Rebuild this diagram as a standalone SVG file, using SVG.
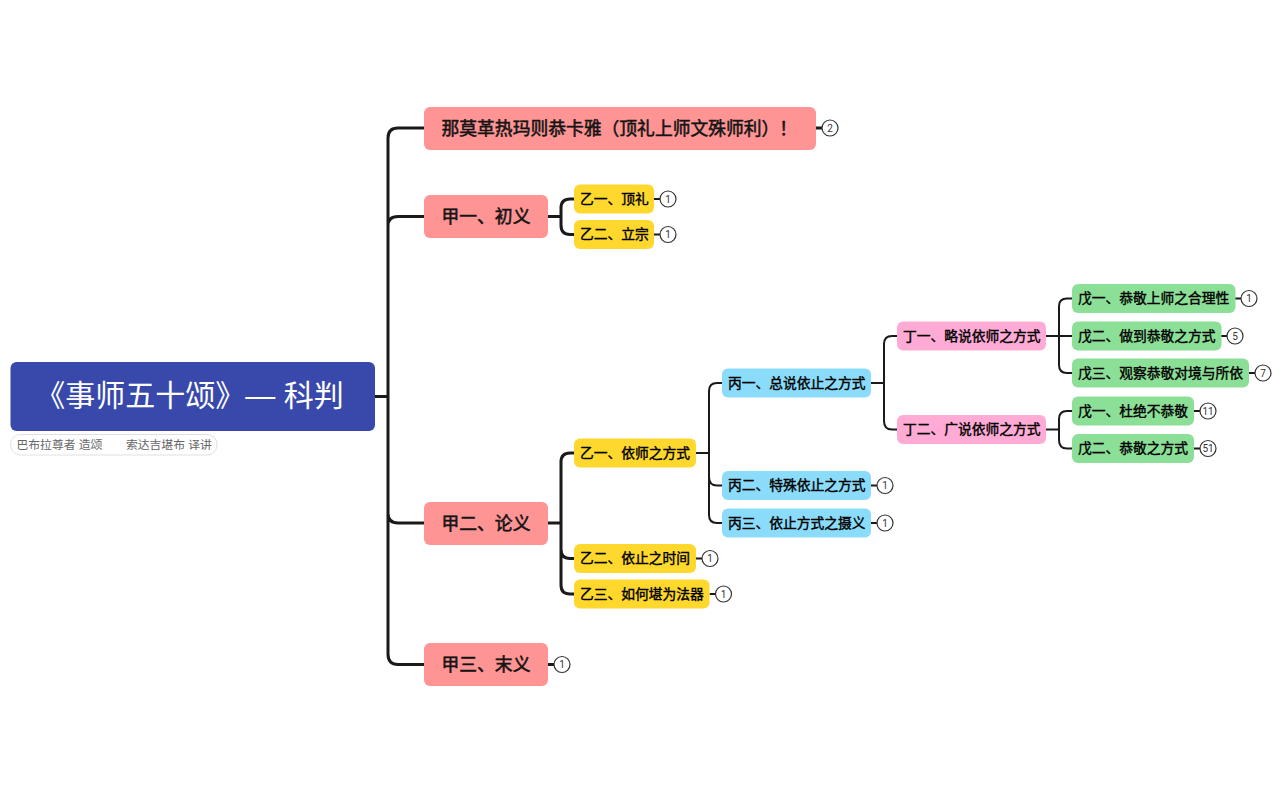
<svg xmlns="http://www.w3.org/2000/svg" width="1281" height="793" viewBox="0 0 1281 793">
<style>
text{font-family:"Liberation Sans","Noto Sans CJK SC",sans-serif;dominant-baseline:central}
.c{fill:none;stroke:#1a1a1a;stroke-linecap:butt}
.w1{stroke-width:3}.w2{stroke-width:3}.w3{stroke-width:2}
.l1{fill:#ff9494}.l2{fill:#ffd82e}.l3{fill:#8bdcfb}.l4{fill:#ffabd6}.l5{fill:#8cdf97}
.t1{font-size:17.8px;font-weight:400;fill:#141414;stroke:#141414;stroke-width:.55px}
.t2{font-size:13.75px;font-weight:400;fill:#000;stroke:#000;stroke-width:.4px}
.b circle{fill:#fff;stroke:#333;stroke-width:1.2}
.b text{font-size:10px;fill:#333;text-anchor:middle;font-family:Roboto,sans-serif}
</style>
<rect width="1281" height="793" fill="#fff"/>
<g id="connectors">
<path class="c w1" d="M375 396.500H388M424 128H398Q388 128 388 138V654Q388 664.500 398 664.500H424M388 226Q388 216.500 398 216.500H424M388 513Q388 523 398 523H424"/>
<path class="c w1" d="M816 128H822M548 664.500H554"/>
<path class="c w2" d="M548 216.500H561M574 199H570Q561 199 561 208V225Q561 234.500 570 234.500H574"/>
<path class="c w2" d="M548 523H561M574 453H570Q561 453 561 462V585Q561 594 570 594H574M561 549Q561 558.500 570 558.500H574"/>
<path class="c w3" d="M654 199H660M654 234.500H660M696 558.500H702M709.500 594H715"/>
<path class="c w3" d="M696 453H709M722 383H717Q709 383 709 391V515Q709 523 717 523H722M709 477Q709 485.500 717 485.500H722"/>
<path class="c w3" d="M871 383H884M897 336H892Q884 336 884 344V421Q884 429.500 892 429.500H897"/>
<path class="c w3" d="M1046 336H1072M1072 298.500H1067Q1059 298.500 1059 306V365Q1059 373 1067 373H1072"/>
<path class="c w3" d="M1046 429.500H1059M1072 411H1067Q1059 411 1059 419V440Q1059 448.500 1067 448.500H1072"/>
<path class="c w3" d="M871 485.500H877M871 523H877M1235 298.500H1241M1221 336H1227M1249 373H1255M1194 411H1200M1194 448.500H1200"/>
</g>
<g id="root"><rect x="10.500" y="362" width="364.500" height="69" rx="6" fill="#3949ab"/><text x="189.500" y="395" text-anchor="middle" font-size="30" fill="#fff">《事师五十颂》— 科判</text></g>
<g id="subtitle"><rect x="10.500" y="434.500" width="206.500" height="20.500" rx="10" fill="#fff" stroke="#e0e0e0"/><text x="16.500" y="444.500" font-size="11.800" fill="#666">巴布拉尊者 造颂<tspan x="126">索达吉堪布 译讲</tspan></text></g>
<g id="n1"><rect class="l1" x="424" y="107" width="392" height="43" rx="6"/><text class="t1" x="441.500" y="128.500">那莫革热玛则恭卡雅（顶礼上师文殊师利）！</text></g>
<g id="b1" class="b"><circle cx="830" cy="128" r="8"/><text x="830" y="128">2</text></g>
<g id="n2"><rect class="l1" x="424" y="195" width="124" height="43" rx="6"/><text class="t1" x="441.500" y="217">甲一、初义</text></g>
<g id="n3"><rect class="l2" x="574" y="184.500" width="80" height="29" rx="6"/><text class="t2" x="580" y="199">乙一、顶礼</text></g>
<g id="b3" class="b"><circle cx="668" cy="199" r="8"/><text x="668" y="199">1</text></g>
<g id="n4"><rect class="l2" x="574" y="220" width="80" height="29" rx="6"/><text class="t2" x="580" y="234.500">乙二、立宗</text></g>
<g id="b4" class="b"><circle cx="668" cy="234.500" r="8"/><text x="668" y="234.500">1</text></g>
<g id="n5"><rect class="l1" x="424" y="502" width="124" height="43" rx="6"/><text class="t1" x="441.500" y="523.500">甲二、论义</text></g>
<g id="n6"><rect class="l2" x="574" y="438.500" width="122" height="29" rx="6"/><text class="t2" x="580" y="453">乙一、依师之方式</text></g>
<g id="n7"><rect class="l3" x="722" y="368.500" width="149" height="29" rx="6"/><text class="t2" x="728" y="383">丙一、总说依止之方式</text></g>
<g id="n8"><rect class="l4" x="897" y="321.500" width="149" height="29" rx="6"/><text class="t2" x="903" y="336">丁一、略说依师之方式</text></g>
<g id="n9"><rect class="l5" x="1072" y="284" width="163.500" height="29" rx="6"/><text class="t2" x="1078" y="298.500">戊一、恭敬上师之合理性</text></g>
<g id="b9" class="b"><circle cx="1249" cy="298.500" r="8"/><text x="1249" y="298.500">1</text></g>
<g id="n10"><rect class="l5" x="1072" y="321.500" width="149.500" height="29" rx="6"/><text class="t2" x="1078" y="336">戊二、做到恭敬之方式</text></g>
<g id="b10" class="b"><circle cx="1235" cy="336" r="8"/><text x="1235" y="336">5</text></g>
<g id="n11"><rect class="l5" x="1072" y="358.500" width="177" height="29" rx="6"/><text class="t2" x="1078" y="373">戊三、观察恭敬对境与所依</text></g>
<g id="b11" class="b"><circle cx="1263" cy="373" r="8"/><text x="1263" y="373">7</text></g>
<g id="n12"><rect class="l4" x="897" y="415" width="149" height="29" rx="6"/><text class="t2" x="903" y="429.500">丁二、广说依师之方式</text></g>
<g id="n13"><rect class="l5" x="1072" y="396.500" width="122" height="29" rx="6"/><text class="t2" x="1078" y="411">戊一、杜绝不恭敬</text></g>
<g id="b13" class="b"><circle cx="1208" cy="411" r="8"/><text x="1208" y="411">11</text></g>
<g id="n14"><rect class="l5" x="1072" y="434" width="122" height="29" rx="6"/><text class="t2" x="1078" y="448.500">戊二、恭敬之方式</text></g>
<g id="b14" class="b"><circle cx="1208" cy="448.500" r="8"/><text x="1208" y="448.500">51</text></g>
<g id="n15"><rect class="l3" x="722" y="471" width="149" height="29" rx="6"/><text class="t2" x="728" y="485.500">丙二、特殊依止之方式</text></g>
<g id="b15" class="b"><circle cx="885" cy="485.500" r="8"/><text x="885" y="485.500">1</text></g>
<g id="n16"><rect class="l3" x="722" y="508.500" width="149" height="29" rx="6"/><text class="t2" x="728" y="523">丙三、依止方式之摄义</text></g>
<g id="b16" class="b"><circle cx="885" cy="523" r="8"/><text x="885" y="523">1</text></g>
<g id="n17"><rect class="l2" x="574" y="544" width="122" height="29" rx="6"/><text class="t2" x="580" y="558.500">乙二、依止之时间</text></g>
<g id="b17" class="b"><circle cx="710" cy="558.500" r="8"/><text x="710" y="558.500">1</text></g>
<g id="n18"><rect class="l2" x="574" y="579.500" width="135.500" height="29" rx="6"/><text class="t2" x="580" y="594">乙三、如何堪为法器</text></g>
<g id="b18" class="b"><circle cx="723.500" cy="594" r="8"/><text x="723.500" y="594">1</text></g>
<g id="n19"><rect class="l1" x="424" y="643" width="124" height="43" rx="6"/><text class="t1" x="441.500" y="665">甲三、末义</text></g>
<g id="b19" class="b"><circle cx="562" cy="664.500" r="8"/><text x="562" y="664.500">1</text></g>
</svg>
